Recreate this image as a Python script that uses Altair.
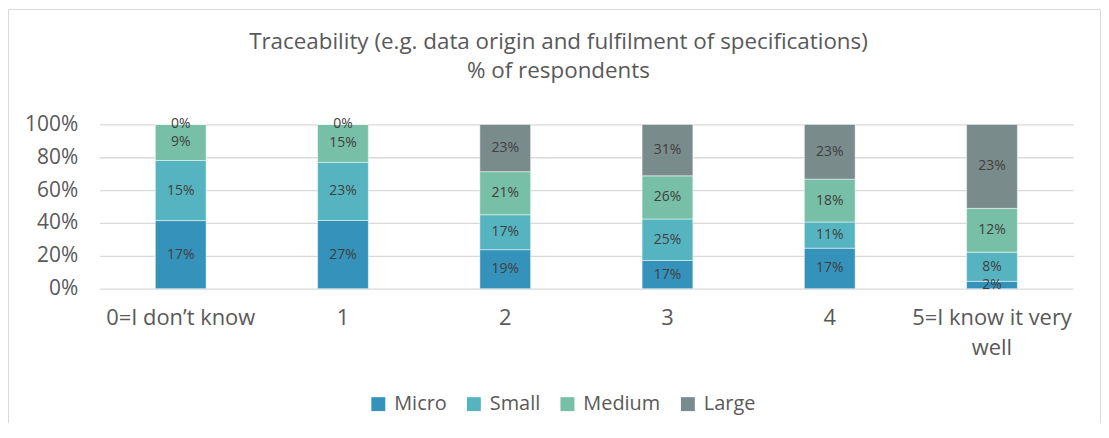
import altair as alt
import pandas as pd

# ---- data ----
levels = ["0=I don’t know", "1", "2", "3", "4", "5=I know it very well"]
sizes = ["Micro", "Small", "Medium", "Large"]
micro = [17, 27, 19, 17, 17, 2]
small = [15, 23, 17, 25, 11, 8]
medium = [9, 15, 21, 26, 18, 12]
large = [0, 0, 23, 31, 23, 23]
colors = ["#3592BB", "#56B4C0", "#77BFA6", "#7A8B8C"]
title_lines = ["Traceability (e.g. data origin and fulfilment of specifications)",
               "% of respondents"]
wrapped = {"5=I know it very well": ["5=I know it very", "well"]}
y_ticks = [0, 0.2, 0.4, 0.6, 0.8, 1]

rows = []
for si, (s, vals) in enumerate(zip(sizes, [micro, small, medium, large])):
    for lv, v in zip(levels, vals):
        rows.append({"level": lv, "size": s, "order": si, "value": v, "label": f"{v}%"})
df = pd.DataFrame(rows)

FONT = "Open Sans"
W, H = 978, 165

label_expr = "datum.value"
for k, lines in wrapped.items():
    arr = "[" + ", ".join("'" + l + "'" for l in lines) + "]"
    label_expr = f"datum.value == '{k}' ? {arr} : " + label_expr

base = alt.Chart(df).transform_stack(
    stack="value", groupby=["level"], as_=["y0", "y1"], offset="normalize",
    sort=[alt.SortField("order", order="ascending")]
).transform_calculate(mid="(datum.y0 + datum.y1) / 2")

x_enc = alt.X("level:N", sort=levels, title=None,
              scale=alt.Scale(paddingInner=0.687, paddingOuter=0.3435),
              axis=alt.Axis(labelAngle=0, labelFont=FONT, labelFontSize=22,
                            labelColor="#595959", labelPadding=19, labelLineHeight=30,
                            ticks=False, tickSize=0, domain=False, grid=False,
                            labelExpr=label_expr, labelLimit=400))

y_axis = alt.Axis(format="%", values=y_ticks, tickCount=6,
                  labelFont=FONT, labelFontSize=21, labelColor="#595959",
                  labelPadding=22, ticks=False, tickSize=0, domain=False,
                  labelOverlap=False, grid=True, gridColor="#d9d9d9", gridWidth=1.3)

bars = base.mark_bar(stroke="#ffffff", strokeWidth=0.8, strokeOpacity=0.6).encode(
    x=x_enc,
    y=alt.Y("y0:Q", title=None, scale=alt.Scale(domain=[0, 1]), axis=y_axis),
    y2="y1:Q",
    color=alt.Color("size:N", sort=sizes,
                    scale=alt.Scale(domain=sizes, range=colors),
                    legend=alt.Legend(orient="none", legendX=270, legendY=271,
                                      direction="horizontal", title=None,
                                      symbolType="square", symbolSize=196,
                                      symbolStrokeWidth=0, labelFont=FONT,
                                      labelFontSize=20, labelColor="#595959",
                                      labelOffset=6, columnPadding=17, padding=0)),
    order=alt.Order("order:Q"),
)

labels = base.mark_text(font=FONT, fontSize=14, color="#404040",
                        baseline="middle", align="center").encode(
    x=alt.X("level:N", sort=levels),
    y=alt.Y("mid:Q", axis=y_axis, title=None),
    text="label:N",
)

one = pd.DataFrame({"k": [0]})
frame_left = alt.Chart(one).mark_rule(color="#d9d9d9", strokeWidth=1).encode(
    x=alt.value(-91.5), y=alt.value(-115.5), y2=alt.value(300))
frame_right = alt.Chart(one).mark_rule(color="#d9d9d9", strokeWidth=1).encode(
    x=alt.value(1005.5), y=alt.value(-115.5), y2=alt.value(300))
frame_top = alt.Chart(one).mark_rule(color="#d9d9d9", strokeWidth=1).encode(
    x=alt.value(-91.5), x2=alt.value(1005.5), y=alt.value(-115.5))

t1 = alt.Chart(one).mark_text(font=FONT, fontSize=22.5, color="#595959",
                              align="center", baseline="alphabetic").encode(
    x=alt.value(461), y=alt.value(-76), text=alt.value(title_lines[0]))
t2 = alt.Chart(one).mark_text(font=FONT, fontSize=22.5, color="#595959",
                              align="center", baseline="alphabetic").encode(
    x=alt.value(461), y=alt.value(-47), text=alt.value(title_lines[1]))

chart = alt.layer(frame_left, frame_right, frame_top, bars, labels, t1, t2).properties(
    width=W, height=H, padding=0, background="white"
).configure_view(stroke=None)

chart.save("out.html", embed_options={"renderer": "svg", "actions": False})
